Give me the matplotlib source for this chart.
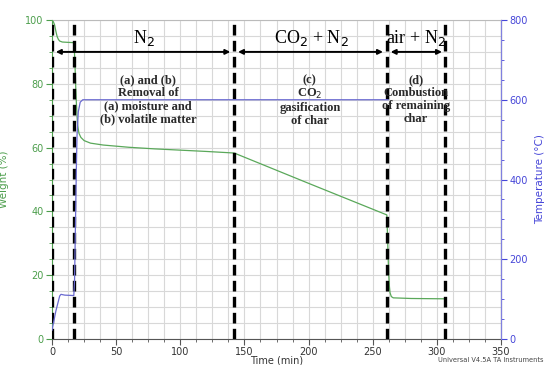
import numpy as np
import matplotlib
matplotlib.use("Agg")
import matplotlib.pyplot as plt
from matplotlib.ticker import MultipleLocator

# weight loss curve
time_w = [0, 1, 2, 3, 4, 5, 6, 8, 12, 17, 17.5, 18, 18.5, 19, 19.5, 20, 21, 22.5, 25, 30, 40, 60,
          80, 100, 120, 142, 200, 261, 261.5, 262, 262.5, 263, 263.5, 264.5, 266, 280, 306]
weight = [100, 99.5, 98.5, 96.5, 94.8, 93.9, 93.4, 93.1, 93.0, 92.9, 90, 85, 79, 74, 70, 67, 64.5, 63.2, 62.2, 61.4, 60.8, 60.1,
          59.6, 59.2, 58.8, 58.3, 48.8, 38.9, 33, 26, 20, 16.5, 14.5, 13.3, 12.9, 12.7, 12.6]

# furnace temperature
time_t = [0, 0.5, 3, 6, 7, 10, 17, 17.6, 18, 18.5, 19, 19.5, 20.5, 22, 24, 262]
temp = [22, 30, 70, 108, 112, 110, 109, 150, 230, 330, 430, 510, 570, 594, 600, 600]

# gas switching times and annotations
switch_t = [0, 17, 142, 261, 306]
gas_labels = ["N$_2$", "CO$_2$ + N$_2$", "air + N$_2$"]
gas_x = [72, 202, 284]
arrows = [(3, 139), (145, 258), (264, 304)]
stage_labels = ["(a) and (b)\nRemoval of\n(a) moisture and\n(b) volatile matter",
                "(c)\nCO$_2$\ngasification\nof char",
                "(d)\nCombustion\nof remaining\nchar"]
stage_x = [75, 201, 283.5]

green = "#4c9e4c"
blue = "#4646d8"
serif = "Liberation Serif"

fig = plt.figure(figsize=(5.45, 3.65), dpi=100)
ax = fig.add_axes([52/545, 26/365, 449/545, 319/365])
ax2 = ax.twinx()

ax.set_xlim(0, 350)
ax.set_ylim(0, 100)
ax2.set_ylim(0, 800)

ax.xaxis.set_major_locator(MultipleLocator(50))
ax.xaxis.set_minor_locator(MultipleLocator(12.5))
ax.yaxis.set_major_locator(MultipleLocator(20))
ax.yaxis.set_minor_locator(MultipleLocator(5))
ax2.yaxis.set_major_locator(MultipleLocator(200))
ax2.yaxis.set_minor_locator(MultipleLocator(50))

ax.grid(True, which="both", color="#d8d8d8", lw=0.8)
ax.set_axisbelow(True)

ax2.plot(time_t, temp, color="#6a6ad0", lw=0.9, zorder=2)
ax.plot(time_w, weight, color="#5aa85a", lw=0.9, zorder=3)

for t in switch_t:
    ax.axvline(t, color="black", lw=2.4, ls=(0, (3.2, 1.6)), zorder=4)

for lab, x in zip(gas_labels, gas_x):
    ax.text(x, 94.3, lab, ha="center", va="center", fontsize=13, family=serif, zorder=5)
for a, b in arrows:
    ax.annotate("", xy=(a, 90), xytext=(b, 90),
                arrowprops=dict(arrowstyle="<|-|>", color="black", lw=1.4,
                                mutation_scale=7, shrinkA=0, shrinkB=0), zorder=5)
for lab, x in zip(stage_labels, stage_x):
    ax.text(x, 83, lab, ha="center", va="top", fontsize=9, family=serif,
            fontweight="semibold", color="#2a2a2a", linespacing=1.1, zorder=5)

ax.tick_params(axis="y", which="both", colors=green, labelsize=7, direction="out", pad=2)
ax.tick_params(axis="y", which="major", length=4)
ax.tick_params(axis="y", which="minor", length=2)
ax.tick_params(axis="x", which="both", colors="#555555", labelcolor="#333333", labelsize=7, pad=2)
ax.tick_params(axis="x", which="major", length=4)
ax.tick_params(axis="x", which="minor", length=2)
ax2.tick_params(axis="y", which="both", colors=blue, labelsize=7, pad=2)
ax2.tick_params(axis="y", which="major", length=4)
ax2.tick_params(axis="y", which="minor", length=2)

ax.spines["top"].set_color("#bbbbbb")
ax.spines["left"].set_color(green)
ax.spines["bottom"].set_color("#555555")
ax2.spines["top"].set_visible(False)
ax2.spines["left"].set_visible(False)
ax2.spines["bottom"].set_visible(False)
ax2.spines["right"].set_color("#8080e0")

ax.set_ylabel("Weight (%)", color=green, fontsize=7.5, labelpad=12)
ax2.set_ylabel("Temperature (\u00b0C)", color=blue, fontsize=7.5, labelpad=5)
ax.set_xlabel("Time (min)", fontsize=7, color="#333333")
ax.xaxis.set_label_coords(0.5, -0.052)

fig.text(0.997, 0.006, "Universal V4.5A TA Instruments", fontsize=4.8, color="#444444",
         ha="right", va="bottom")

fig.savefig("out.png", dpi=100)
